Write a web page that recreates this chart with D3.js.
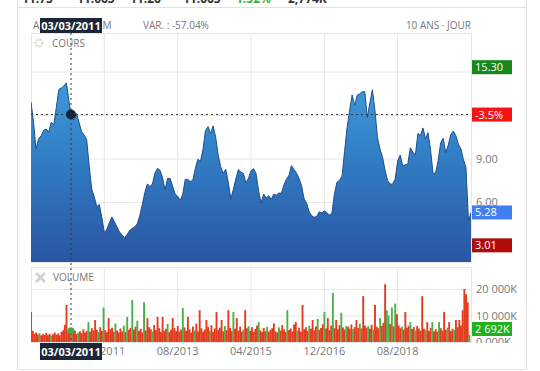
<!DOCTYPE html>
<html>
<head>
<meta charset="utf-8">
<script src="https://cdn.jsdelivr.net/npm/d3@7"></script>
<style>
  body { margin: 0; background: #fff; font-family: "Open Sans", sans-serif; }
  svg { display: block; }
</style>
</head>
<body>
<svg id="chart" width="540" height="371"></svg>
<script>
// data (AIR FRANCE-KLM, 10 ans, pas de 3 semaines pour le cours)
const startDay = '2010-04-05';
const priceStepDays = 21;
const priceValues = [
  12.90, 11.50, 9.66, 10.37, 10.57, 10.95, 11.03, 10.81, 11.50, 11.32,
  12.50, 13.76, 13.86, 14.00, 14.22, 12.98, 11.81, 11.66, 12.10, 11.48,
  10.86, 10.62, 10.32, 8.51, 6.89, 6.37, 5.68, 5.83, 4.94, 3.88,
  4.12, 4.57, 4.97, 4.63, 4.28, 3.93, 3.72, 3.54, 3.75, 4.03,
  4.17, 4.28, 4.48, 5.05, 5.81, 6.64, 7.25, 7.07, 7.23, 7.98,
  8.32, 8.19, 7.70, 6.83, 7.63, 7.63, 7.09, 6.55, 6.40, 6.11,
  6.53, 7.56, 7.56, 7.41, 7.50, 8.32, 8.96, 8.79, 9.61, 10.94,
  11.20, 10.72, 11.25, 10.50, 9.26, 8.43, 7.97, 8.26, 7.37, 6.22,
  6.86, 7.59, 8.23, 8.07, 7.97, 7.31, 7.64, 8.16, 8.30, 7.96,
  6.77, 5.93, 6.55, 6.29, 6.43, 6.18, 6.54, 6.47, 6.62, 6.59,
  7.18, 7.57, 7.82, 8.51, 8.25, 7.99, 7.63, 7.12, 6.21, 5.92,
  5.32, 5.05, 4.94, 5.01, 5.32, 5.25, 5.39, 5.26, 5.10, 5.23,
  6.56, 7.37, 7.49, 7.78, 9.49, 11.12, 12.32, 13.39, 12.66, 13.37,
  13.46, 13.61, 13.61, 11.83, 12.83, 13.74, 12.35, 10.46, 9.66, 9.11,
  8.20, 7.49, 7.24, 7.23, 7.57, 8.84, 9.24, 8.50, 8.57, 8.61,
  9.74, 9.44, 9.24, 10.73, 10.58, 11.11, 10.36, 10.78, 9.60, 7.95,
  8.02, 8.85, 10.07, 10.39, 9.40, 9.91, 10.66, 10.90, 10.59, 9.99,
  9.66, 8.94, 8.39, 4.69, 5.28
];

// volume in K, one bar every 2 weeks
const volumeStepDays = 14;
const volumeValues = [
  11300, 4200, 3100, 3600, 2800, 3300, 2500, 3000, 2700, 3400,
  2600, 3100, 2400, 2900, 3600, 2700, 3200, 2500, 3800, 4400,
  6500, 14000, 3800, 4100, 5000, 3500, 4300, 3000, 3600, 4000,
  3300, 4800, 3600, 4200, 7500, 3900, 5200, 4400, 8300, 4600,
  3800, 5600, 4200, 13000, 4500, 3700, 9000, 4800, 5400, 3900,
  7000, 4300, 3600, 5100, 4000, 6200, 3800, 9500, 4600, 5300,
  15800, 4700, 5800, 8000, 4200, 5000, 3600, 15000, 4400, 9000,
  5600, 4800, 3900, 6400, 4500, 9500, 5200, 3800, 9500, 4300,
  5000, 6800, 3700, 4600, 9000, 5300, 4100, 6000, 3900, 4700,
  12800, 5500, 4200, 9500, 4800, 3600, 5800, 4300, 6900, 4000,
  12000, 5200, 3900, 4700, 8300, 5600, 4200, 6300, 3800, 5100,
  11300, 4600, 5400, 8300, 4000, 6000, 4500, 12000, 5300, 4100,
  11300, 5000, 9000, 4300, 5800, 3900, 4700, 12000, 5200, 6000,
  4200, 5600, 3800, 4900, 6200, 7500, 4400, 3700, 5300, 4100,
  5700, 3900, 4600, 5200, 7000, 4000, 3600, 5500, 4300, 6400,
  4700, 3800, 12000, 4500, 5100, 4000, 6600, 7500, 4300, 5400,
  3900, 14000, 4800, 5600, 4200, 6100, 5000, 8300, 4400, 5900,
  8700, 4600, 5300, 6700, 11300, 5100, 9000, 4500, 6200, 18500,
  5200, 8300, 4800, 6400, 11000, 5500, 4700, 6000, 5800, 5000,
  6600, 4900, 5600, 8300, 5300, 6900, 5100, 17300, 6200, 5400,
  6000, 5000, 6500, 4700, 14000, 5800, 5200, 9000, 6100, 7200,
  21800, 12000, 10000, 6800, 13000, 5900, 14500, 10500, 6300, 5200,
  5800, 4700, 11300, 5400, 6100, 7500, 4900, 5600, 4400, 6000,
  5100, 4300, 17300, 5000, 4600, 7500, 4200, 5300, 7500, 4000,
  4800, 3900, 7500, 5200, 4300, 11300, 4600, 5400, 7500, 4100,
  5000, 4500, 8300, 5600, 8300, 6200, 12000, 20000, 18000, 15000,
  2692
];
// bars drawn green (up days)
const volumeUp = [5, 12, 24, 28, 34, 40, 43, 50, 55, 57, 60, 63, 67, 72, 81, 90, 97, 106,
  115, 120, 126, 129, 135, 140, 147, 152, 158, 165, 170, 174, 179, 184, 187, 191, 195,
  200, 203, 207, 211, 212, 214, 216, 220, 225, 228, 234, 238, 242, 247, 251, 260];

const timeTicks = ['2011-12-01', '2013-08-01', '2015-04-01', '2016-12-01', '2018-08-01'];
const priceTicks = [6, 9, 12, 15];
const priceLabelTicks = [6, 9];   // 12 and 15 sit under the badges
const priceDomain = [1.86, 17.66];
const volumeTicks = [0, 10000, 20000];
const volumeTickLabels = ['0.000K', '10 000K', '20 000K'];
const volumeDomain = [0, 28300];

const priceHigh = 15.30;
const priceLow = 3.01;
const crossDay = '2011-03-03';
const crossVar = '-3.5%';
const headerStats = ['11.75', '11.065', '11.26', '11.065', '1.52%', '2,774K'];

// layout
const left = 31, right = 471;
const priceTop = 33, priceBottom = 262;
const volTop = 267, volBottom = 342;

const parse = d3.timeParse('%Y-%m-%d');
const start = parse(startDay);
const prices = priceValues.map((v, i) => ({ date: d3.timeDay.offset(start, i * priceStepDays), value: v }));
const volumes = volumeValues.map((v, i) => ({ date: d3.timeDay.offset(start, i * volumeStepDays), value: v, up: volumeUp.includes(i) }));
const crossDate = parse(crossDay);

const svg = d3.select('#chart');

const x = d3.scaleTime().domain(d3.extent(prices, d => d.date)).range([left, right]);
const y = d3.scaleLinear().domain(priceDomain).range([priceBottom, priceTop]);
const yv = d3.scaleLinear().domain(volumeDomain).range([volBottom, volTop]);

// cut-off stats row at the very top
const statX = [22, 77, 130, 183, 236, 288];
svg.append('g').selectAll('text').data(headerStats).join('text')
  .attr('x', (d, i) => statX[i]).attr('y', 3)
  .attr('font-size', 12).attr('font-weight', 700)
  .attr('fill', (d, i) => i === 4 ? '#3bb33b' : '#333')
  .text(d => d);

// card borders
const card = svg.append('g').attr('stroke', '#e2e2e2').attr('fill', 'none');
card.append('line').attr('x1', 17.5).attr('x2', 17.5).attr('y1', 0).attr('y2', 369.5);
card.append('line').attr('x1', 526.5).attr('x2', 526.5).attr('y1', 0).attr('y2', 369.5);
card.append('line').attr('x1', 17.5).attr('x2', 526.5).attr('y1', 7.5).attr('y2', 7.5);
card.append('line').attr('x1', 17.5).attr('x2', 526.5).attr('y1', 369.5).attr('y2', 369.5);

// header
const hdr = svg.append('g').attr('font-size', 10).attr('fill', '#777');
hdr.append('text').attr('x', 33).attr('y', 29).text('AIR FRANCE-KLM');
hdr.append('text').attr('x', 143).attr('y', 29).text('VAR. : -57.04%');
hdr.append('text').attr('x', right).attr('y', 29).attr('text-anchor', 'end').text('10 ANS · JOUR');

// panels
svg.append('rect').attr('x', left + 0.5).attr('y', priceTop + 0.5)
  .attr('width', right - left).attr('height', priceBottom - priceTop)
  .attr('fill', 'none').attr('stroke', '#e6e6e6');
svg.append('rect').attr('x', left + 0.5).attr('y', volTop + 0.5)
  .attr('width', right - left).attr('height', volBottom - volTop)
  .attr('fill', 'none').attr('stroke', '#e6e6e6');

function styleGrid(g) {
  g.select('.domain').remove();
  g.selectAll('.tick line').attr('stroke', '#e8e8e8');
  g.selectAll('.tick text').attr('fill', '#777').attr('font-size', 11)
    .attr('font-family', '"Open Sans", sans-serif');
}

// vertical grid
const tickDates = timeTicks.map(parse);
svg.append('g').attr('transform', `translate(0,${priceBottom})`)
  .call(d3.axisBottom(x).tickValues(tickDates).tickSize(-(priceBottom - priceTop)).tickFormat(''))
  .call(styleGrid);
svg.append('g').attr('transform', `translate(0,${volBottom})`)
  .call(d3.axisBottom(x).tickValues(tickDates).tickSize(-(volBottom - volTop)).tickFormat(''))
  .call(styleGrid);

// horizontal grid + price labels
svg.append('g').attr('transform', `translate(${right},0)`)
  .call(d3.axisRight(y).tickValues(priceTicks).tickSize(-(right - left)).tickPadding(5).tickFormat(d3.format('.2f')))
  .call(styleGrid)
  .call(g => g.selectAll('.tick text').filter(d => !priceLabelTicks.includes(d)).remove());

// volume axis, labels clipped at the panel bottom (clip in the group's own coordinates)
const defs = svg.append('defs');
defs.append('clipPath').attr('id', 'volAxisClip')
  .append('rect').attr('x', -(right - left)).attr('y', volTop).attr('width', 600).attr('height', volBottom - volTop + 1);
svg.append('g').attr('transform', `translate(${right},0)`).attr('clip-path', 'url(#volAxisClip)')
  .call(d3.axisRight(yv).tickValues(volumeTicks).tickSize(-(right - left)).tickPadding(5)
    .tickFormat((d, i) => volumeTickLabels[i]))
  .call(styleGrid)
  .call(g => g.selectAll('.tick line').filter(d => d === 0).remove());

// price area
const grad = defs.append('linearGradient').attr('id', 'areaGrad')
  .attr('gradientUnits', 'userSpaceOnUse')
  .attr('x1', 0).attr('y1', priceTop).attr('x2', 0).attr('y2', priceBottom);
grad.append('stop').attr('offset', 0).attr('stop-color', '#4aaae3');
grad.append('stop').attr('offset', 0.5).attr('stop-color', '#3282c8');
grad.append('stop').attr('offset', 1).attr('stop-color', '#2a55a2');

defs.append('clipPath').attr('id', 'priceClip')
  .append('rect').attr('x', left).attr('y', priceTop).attr('width', right - left).attr('height', priceBottom - priceTop);

const area = d3.area().x(d => x(d.date)).y0(priceBottom).y1(d => y(d.value));
const line = d3.line().x(d => x(d.date)).y(d => y(d.value));

const pg = svg.append('g').attr('clip-path', 'url(#priceClip)');
pg.append('path').datum(prices).attr('d', area).attr('fill', 'url(#areaGrad)');
pg.append('path').datum(prices).attr('d', line).attr('fill', 'none')
  .attr('stroke', '#1f4e8c').attr('stroke-width', 1);

// COURS label with gear
svg.append('circle').attr('cx', 39).attr('cy', 43).attr('r', 3.5)
  .attr('fill', 'none').attr('stroke', '#d4d4d4').attr('stroke-width', 2).attr('stroke-dasharray', '2,1.3');
svg.append('text').attr('x', 52).attr('y', 47).attr('font-size', 10).attr('fill', '#777').text('COURS');

// volume bars
defs.append('clipPath').attr('id', 'volClip')
  .append('rect').attr('x', left).attr('y', volTop).attr('width', right - left).attr('height', volBottom - volTop);
const barW = x(d3.timeDay.offset(start, volumeStepDays)) - x(start);
svg.append('g').attr('clip-path', 'url(#volClip)')
  .selectAll('rect').data(volumes).join('rect')
  .attr('x', d => x(d.date) - barW / 2)
  .attr('width', barW + 0.2)
  .attr('y', d => yv(d.value))
  .attr('height', d => volBottom - yv(d.value))
  .attr('fill', d => d.up ? '#4cb04a' : '#e23b1d');

// VOLUME label with x icon
const xi = svg.append('g').attr('stroke', '#d0d0d0').attr('stroke-width', 2.5);
xi.append('line').attr('x1', 36).attr('y1', 273).attr('x2', 45).attr('y2', 282);
xi.append('line').attr('x1', 45).attr('y1', 273).attr('x2', 36).attr('y2', 282);
svg.append('text').attr('x', 53).attr('y', 281).attr('font-size', 10).attr('fill', '#777').text('VOLUME');

// time labels
svg.append('g').attr('transform', `translate(0,${volBottom})`)
  .call(d3.axisBottom(x).tickValues(tickDates).tickSize(0).tickPadding(5).tickFormat(d3.timeFormat('%m/%Y')))
  .call(styleGrid);

// crosshair
const bis = d3.bisector(d => d.date).left;
const ci = bis(prices, crossDate);
const a = prices[ci - 1], b = prices[ci];
const crossValue = a.value + (crossDate - a.date) / (b.date - a.date) * (b.value - a.value);
const cx = x(crossDate), cy = y(crossValue);
const crossVol = volumes[d3.bisector(d => d.date).center(volumes, crossDate)];

svg.append('line').attr('x1', left).attr('x2', right).attr('y1', cy).attr('y2', cy)
  .attr('stroke', '#333').attr('stroke-dasharray', '2,3');
svg.append('line').attr('x1', cx).attr('x2', cx).attr('y1', priceTop).attr('y2', volBottom)
  .attr('stroke', '#333').attr('stroke-dasharray', '2,3');
svg.append('circle').attr('cx', cx).attr('cy', cy).attr('r', 5).attr('fill', '#16243a');
svg.append('circle').attr('cx', cx).attr('cy', yv(crossVol.value) + 2).attr('r', 3.5).attr('fill', '#3fae3f');

const fmtDay = d3.timeFormat('%d/%m/%Y');
function dateBox(top, h) {
  svg.append('rect').attr('x', cx - 31).attr('y', top).attr('width', 62).attr('height', h).attr('fill', '#1b2738');
  svg.append('text').attr('x', cx).attr('y', top + h / 2 + 4).attr('text-anchor', 'middle')
    .attr('font-size', 11).attr('font-weight', 700).attr('fill', '#fff').text(fmtDay(crossDate));
}
dateBox(18, 15);
dateBox(343, 17);

// right-hand badges
function badge(yc, label, color) {
  svg.append('rect').attr('x', right + 1).attr('y', yc - 7).attr('width', 40).attr('height', 14).attr('fill', color);
  svg.append('text').attr('x', right + 4).attr('y', yc + 4).attr('font-size', 11)
    .attr('fill', '#fff').text(label);
}
const lastPrice = prices[prices.length - 1].value;
const lastVol = volumes[volumes.length - 1].value;
badge(y(priceHigh), priceHigh.toFixed(2), '#18881a');
badge(cy, crossVar, '#f51414');
badge(y(lastPrice), lastPrice.toFixed(2), '#3f7ff2');
badge(y(priceLow), priceLow.toFixed(2), '#b00c0c');
badge(Math.min(yv(lastVol), volBottom - 13), d3.format(',')(lastVol).replace(',', ' ') + 'K', '#20b020');
</script>
</body>
</html>
